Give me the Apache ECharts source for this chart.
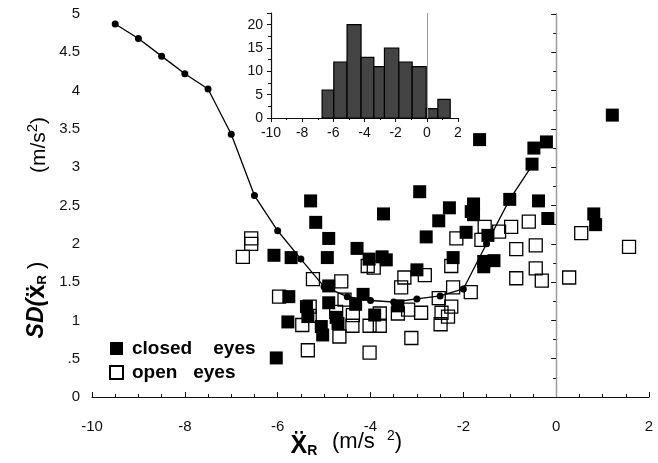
<!DOCTYPE html>
<html>
<head>
<meta charset="utf-8">
<script src="https://cdn.jsdelivr.net/npm/echarts@6/dist/echarts.min.js"></script>
<style>
  html, body { margin: 0; padding: 0; background: #fff; }
  #chart { width: 658px; height: 463px; }
</style>
</head>
<body>
<div id="chart"></div>
<script>
// Mean curve of SD(ẍR) per 0.5 m/s² bin of ẍR
const curveX = [-9.5, -9, -8.5, -8, -7.5, -7, -6.5, -6, -5.5, -5, -4.5, -4, -3.5, -3, -2.5, -2, -1.5, -1, -0.5];
const curveY = [4.87, 4.68, 4.45, 4.22, 4.02, 3.43, 2.63, 2.17, 1.80, 1.44, 1.31, 1.26, 1.24, 1.28, 1.32, 1.41, 2.0, 2.58, 3.04];

// Individual trials, eyes closed: [ẍR, SD]
const closedEyes = [
  [-6.08, 1.85], [-5.76, 1.31], [-5.78, 0.98], [-6.03, 0.51], [-5.71, 1.82],
  [-5.29, 2.56], [-5.18, 2.28], [-4.90, 2.07], [-4.93, 1.82], [-4.29, 1.94],
  [-4.03, 1.80], [-3.75, 1.83], [-3.66, 1.79], [-3.72, 2.39], [-2.94, 2.68],
  [-2.53, 2.30], [-2.30, 2.47], [-2.80, 2.09], [-2.22, 1.82], [-3.00, 1.66],
  [-4.90, 1.45], [-4.16, 1.34], [-4.32, 1.21], [-4.90, 1.23], [-5.38, 1.18],
  [-5.35, 1.05], [-5.06, 0.92], [-5.03, 0.81], [-4.70, 0.96], [-4.74, 1.04],
  [-3.91, 1.07], [-3.41, 1.19],
  [-1.65, 3.36], [-0.48, 3.25], [-0.21, 3.33], [-0.52, 3.04], [-1.00, 2.58],
  [-0.38, 2.56], [-0.18, 2.33], [-1.78, 2.52], [-1.83, 2.42], [-1.78, 2.38],
  [-1.94, 2.15], [-1.47, 2.11], [-1.56, 1.77], [-1.34, 1.78], [-1.56, 1.70],
  [1.21, 3.68], [0.81, 2.39], [0.85, 2.25]
];

// Individual trials, eyes open: [ẍR, SD]
const openEyes = [
  [-6.57, 2.07], [-6.57, 2.00], [-6.75, 1.83], [-5.97, 1.31],
  [-5.24, 1.54], [-4.63, 1.51], [-4.06, 1.71], [-3.93, 1.69], [-3.27, 1.56],
  [-3.34, 1.43], [-2.83, 1.59], [-2.15, 2.07], [-2.26, 1.71], [-2.22, 1.43],
  [-5.31, 1.18], [-5.31, 1.06], [-5.47, 0.94], [-5.35, 0.61], [-4.67, 0.79],
  [-4.74, 1.11], [-4.56, 1.27], [-4.38, 1.07], [-4.39, 0.93], [-4.02, 0.93],
  [-3.80, 1.09], [-3.80, 0.93], [-3.41, 1.09], [-3.19, 1.14], [-2.91, 1.10],
  [-3.12, 0.77], [-4.02, 0.58], [-2.47, 1.10], [-2.33, 1.05], [-2.49, 0.95],
  [-2.26, 1.18], [-2.53, 1.29],
  [-1.54, 2.22], [-1.23, 2.16], [-0.97, 2.22], [-0.59, 2.29], [-1.61, 2.05],
  [-0.86, 1.93], [-0.44, 1.98], [-0.44, 1.68], [-0.86, 1.55], [-0.31, 1.52],
  [0.28, 1.56], [0.54, 2.14], [1.57, 1.96], [-1.84, 1.37]
];

// Distribution of ẍR (inset histogram)
const binStart = [-6.72, -5.97, -5.12, -4.22, -3.40, -2.72, -1.80, -0.94, -0.04, 0.71];
const binEnd   = [-5.97, -5.12, -4.22, -3.40, -2.72, -1.80, -0.94, -0.04, 0.71, 1.50];
const binCount = [6, 12, 20, 13, 11, 15, 12, 11, 2, 4];

const FONT = '"Liberation Sans", Arial, Helvetica, sans-serif';
const INK = '#111';

const chart = echarts.init(document.getElementById('chart'), null, { renderer: 'canvas' });

const histData = binCount.map((c, i) => [binStart[i], binEnd[i], c]);

const option = {
  backgroundColor: '#fff',
  animation: false,
  textStyle: { fontFamily: FONT },
  grid: [
    { left: 92, right: 9, top: 14, bottom: 66 },
    { left: 271, right: 200, top: 13, bottom: 345 }
  ],
  legend: {
    orient: 'vertical',
    left: 104,
    top: 334,
    itemWidth: 13,
    itemHeight: 13,
    itemGap: 5,
    data: ['closed    eyes', 'open   eyes'],
    textStyle: { fontFamily: FONT, fontSize: 19, fontWeight: 'bold', color: '#000', padding: [0, 0, 0, 4] }
  },
  xAxis: [
    {
      gridIndex: 0, type: 'value', min: -10, max: 2, interval: 2, offset: 8,
      axisLine: { show: true, lineStyle: { color: INK, width: 1.2 } },
      axisTick: { show: true, inside: true, length: 5, lineStyle: { color: INK } },
      minorTick: { show: true, splitNumber: 4, length: 3, lineStyle: { color: INK } },
      splitLine: { show: false },
      axisLabel: { color: INK, fontSize: 15, margin: 14, fontFamily: FONT }
    },
    {
      gridIndex: 1, type: 'value', min: -10, max: 2, interval: 2,
      axisLine: { show: true, onZero: false, lineStyle: { color: INK, width: 1.2 } },
      axisTick: { show: true, length: 4, lineStyle: { color: INK } },
      minorTick: { show: true, splitNumber: 2, length: 2, lineStyle: { color: INK } },
      splitLine: { show: false },
      axisLabel: { color: INK, fontSize: 14, margin: 8, fontFamily: FONT }
    }
  ],
  yAxis: [
    {
      gridIndex: 0, type: 'value', min: 0, max: 5, interval: 0.5,
      axisLine: { show: true, lineStyle: { color: INK, width: 1.2 } },
      axisTick: { show: true, length: 5, lineStyle: { color: INK } },
      minorTick: { show: true, splitNumber: 2, length: 3, lineStyle: { color: INK } },
      splitLine: { show: false },
      axisLabel: {
        color: INK, fontSize: 15, margin: 12, fontFamily: FONT,
        formatter: v => (v > 0 && v < 1) ? String(v).replace(/^0/, '') : String(v)
      }
    },
    {
      gridIndex: 1, type: 'value', min: 0, max: 22.5, interval: 5,
      axisLine: { show: true, onZero: false, lineStyle: { color: INK, width: 1.2 } },
      axisTick: { show: true, length: 4, lineStyle: { color: INK } },
      minorTick: { show: true, splitNumber: 2, length: 3, lineStyle: { color: INK } },
      splitLine: { show: false },
      axisLabel: { color: INK, fontSize: 14, margin: 8, fontFamily: FONT, showMaxLabel: false }
    }
  ],
  series: [
    {
      name: 'open   eyes',
      type: 'scatter',
      xAxisIndex: 0, yAxisIndex: 0,
      symbol: 'rect',
      symbolSize: 13,
      itemStyle: { color: 'rgba(255,255,255,0)', borderColor: '#000', borderWidth: 1.3, opacity: 1 },
      data: openEyes,
      markLine: {
        silent: true, symbol: 'none',
        label: { show: false },
        lineStyle: { color: '#9a9a9a', type: 'solid', width: 1 },
        data: [{ xAxis: 0 }]
      },
      z: 3
    },
    {
      name: 'closed    eyes',
      type: 'scatter',
      xAxisIndex: 0, yAxisIndex: 0,
      symbol: 'rect',
      symbolSize: 13,
      itemStyle: { color: '#000', opacity: 1 },
      data: closedEyes,
      z: 4
    },
    {
      name: 'mean',
      type: 'line',
      xAxisIndex: 0, yAxisIndex: 0,
      data: curveX.map((x, i) => [x, curveY[i]]),
      symbol: 'circle',
      symbolSize: 7,
      showSymbol: true,
      lineStyle: { color: '#000', width: 1.3 },
      itemStyle: { color: '#000' },
      z: 5
    },
    {
      name: 'histogram',
      type: 'custom',
      xAxisIndex: 1, yAxisIndex: 1,
      data: histData,
      renderItem: (params, api) => {
        const p0 = api.coord([api.value(0), 0]);
        const p1 = api.coord([api.value(1), api.value(2)]);
        return {
          type: 'rect',
          shape: { x: p0[0], y: p1[1], width: p1[0] - p0[0], height: p0[1] - p1[1] },
          style: { fill: '#444', stroke: '#000', lineWidth: 1.2 }
        };
      },
      markLine: {
        silent: true, symbol: 'none',
        label: { show: false },
        lineStyle: { color: '#9a9a9a', type: 'solid', width: 1 },
        data: [{ xAxis: 0 }]
      },
      z: 2
    }
  ],
  graphic: [
    {
      // y-axis title, quantity part (read bottom to top)
      type: 'text',
      x: 37, y: 300,
      rotation: Math.PI / 2,
      style: {
        text: '{b|SD(}{x|ẍ}{s|R}{p| )}',
        align: 'center',
        verticalAlign: 'middle',
        fill: '#000',
        rich: {
          b: { fontFamily: FONT, fontSize: 23, fontWeight: 'bold', fontStyle: 'italic', fill: '#000' },
          x: { fontFamily: FONT, fontSize: 26, fontWeight: 'bold', fill: '#000' },
          s: { fontFamily: FONT, fontSize: 13, fontWeight: 'bold', fill: '#000', padding: [11, 0, 0, 0] },
          p: { fontFamily: FONT, fontSize: 22, fill: '#000' }
        }
      }
    },
    {
      // y-axis title, unit part
      type: 'text',
      x: 39, y: 145,
      rotation: Math.PI / 2,
      style: {
        text: '{n|(m/s}{sup|2}{n|)}',
        align: 'center',
        verticalAlign: 'middle',
        fill: '#000',
        rich: {
          n: { fontFamily: FONT, fontSize: 21, fill: '#000' },
          sup: { fontFamily: FONT, fontSize: 15, fill: '#000', padding: [0, 0, 12, 0] }
        }
      }
    },
    {
      // x-axis title, quantity part
      type: 'text',
      x: 304, y: 446,
      style: {
        text: '{x|Ẍ}{s|R}',
        align: 'center',
        verticalAlign: 'middle',
        fill: '#000',
        rich: {
          x: { fontFamily: FONT, fontSize: 25, fontWeight: 'bold', fill: '#000' },
          s: { fontFamily: FONT, fontSize: 14, fontWeight: 'bold', fill: '#000', padding: [11, 0, 0, 0] }
        }
      }
    },
    {
      // x-axis title, unit part
      type: 'text',
      x: 332, y: 442,
      style: {
        text: '{n|(m/s  }{sup|2}{n|)}',
        align: 'left',
        verticalAlign: 'middle',
        fill: '#000',
        rich: {
          n: { fontFamily: FONT, fontSize: 22, fill: '#000' },
          sup: { fontFamily: FONT, fontSize: 14, fill: '#000', padding: [0, 0, 12, 0] }
        }
      }
    }
  ]
};

chart.setOption(option);
</script>
</body>
</html>
